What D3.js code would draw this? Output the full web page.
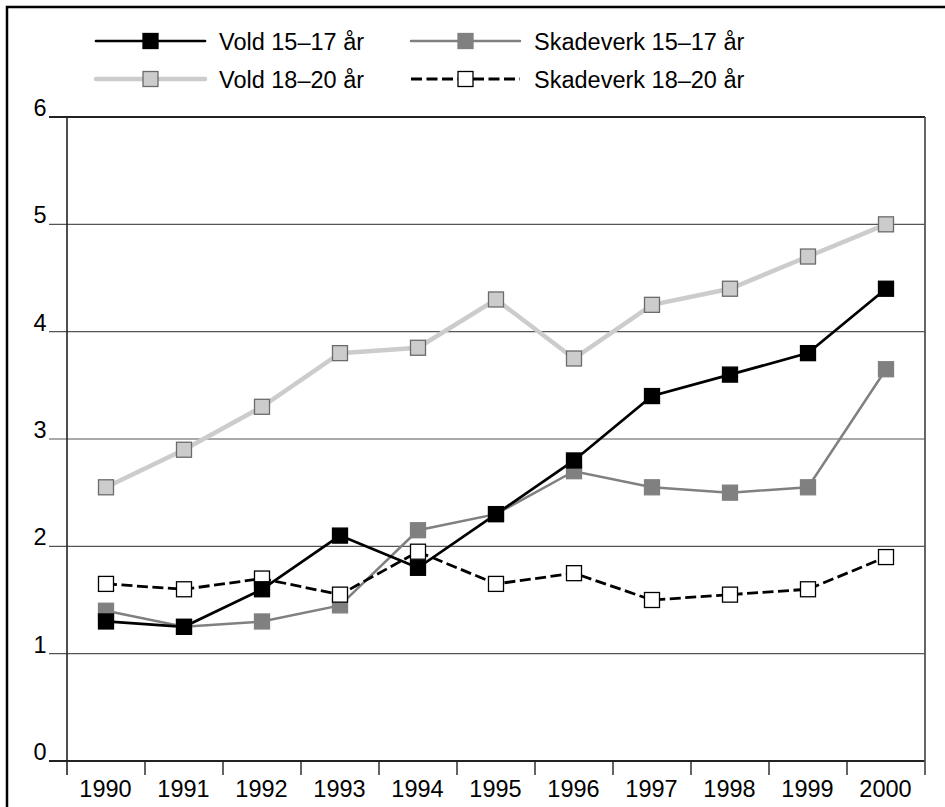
<!DOCTYPE html>
<html>
<head>
<meta charset="utf-8">
<script src="https://cdn.jsdelivr.net/npm/d3@7"></script>
<style>
  html, body { margin: 0; padding: 0; background: #fff; }
  svg text { font-family: "Liberation Sans", Arial, Helvetica, sans-serif; fill: #000; }
</style>
</head>
<body>
<svg id="chart" width="945" height="807"></svg>
<script>
const years = ["1990","1991","1992","1993","1994","1995","1996","1997","1998","1999","2000"];
const yTicks = [0, 1, 2, 3, 4, 5, 6];
const seriesNames = ["Vold 15–17 år", "Skadeverk 15–17 år", "Vold 18–20 år", "Skadeverk 18–20 år"];
const vold1517 = [1.3, 1.25, 1.6, 2.1, 1.8, 2.3, 2.8, 3.4, 3.6, 3.8, 4.4];
const skade1517 = [1.4, 1.25, 1.3, 1.45, 2.15, 2.3, 2.7, 2.55, 2.5, 2.55, 3.65];
const vold1820 = [2.55, 2.9, 3.3, 3.8, 3.85, 4.3, 3.75, 4.25, 4.4, 4.7, 5.0];
const skade1820 = [1.65, 1.6, 1.7, 1.55, 1.95, 1.65, 1.75, 1.5, 1.55, 1.6, 1.9];

const styles = [
  { line: "#000", width: 2.7, dash: null, fill: "#000", stroke: "#000" },
  { line: "#808080", width: 2.5, dash: null, fill: "#808080", stroke: "#808080" },
  { line: "#cccccc", width: 4.5, dash: null, fill: "#cccccc", stroke: "#6b6b6b" },
  { line: "#000", width: 2.8, dash: "11,4.5", fill: "#fff", stroke: "#000" }
];
const data = [vold1517, skade1517, vold1820, skade1820];
const drawOrder = [2, 1, 3, 0];

const svg = d3.select("#chart");
const pLeft = 67, pRight = 925, pTop = 117, pBottom = 761;
const fs = 23.5;

svg.append("path").attr("d", "M7,807 L7,7 L945,7").attr("fill", "none").attr("stroke", "#000").attr("stroke-width", 2.5);

const x = d3.scaleBand().domain(years).range([pLeft, pRight]).padding(0);
const y = d3.scaleLinear().domain([0, 6]).range([pBottom, pTop]);

svg.append("g").selectAll("line").data(yTicks).join("line")
  .attr("x1", 49).attr("x2", pRight)
  .attr("y1", d => y(d)).attr("y2", d => y(d))
  .attr("stroke", d => (d === 0 || d === 6) ? "#222" : "#555")
  .attr("stroke-width", d => (d === 0) ? 2.2 : (d === 6 ? 1.8 : 1.1));

svg.append("g").selectAll("text").data(yTicks).join("text")
  .attr("x", 46.5).attr("y", d => y(d) - 1)
  .attr("text-anchor", "end")
  .attr("font-size", fs)
  .text(d => d);

svg.append("line").attr("x1", pLeft).attr("x2", pLeft).attr("y1", pTop).attr("y2", pBottom + 14)
  .attr("stroke", "#222").attr("stroke-width", 1.6);
svg.append("line").attr("x1", pRight).attr("x2", pRight).attr("y1", pTop).attr("y2", pBottom + 14)
  .attr("stroke", "#555").attr("stroke-width", 1.8);

svg.append("g").selectAll("line").data(years.slice(1)).join("line")
  .attr("x1", d => x(d)).attr("x2", d => x(d))
  .attr("y1", pBottom).attr("y2", pBottom + 14)
  .attr("stroke", "#222").attr("stroke-width", 1.4);

svg.append("g").selectAll("text").data(years).join("text")
  .attr("x", d => x(d) + x.bandwidth() / 2 - 0.5)
  .attr("y", 797)
  .attr("text-anchor", "middle")
  .attr("font-size", fs)
  .text(d => d);

const cx = d => x(d) + x.bandwidth() / 2;
const ms = 15;

drawOrder.forEach(i => {
  const st = styles[i];
  const pts = years.map((yr, j) => [cx(yr), y(data[i][j])]);
  svg.append("path")
    .attr("d", d3.line()(pts))
    .attr("fill", "none")
    .attr("stroke", st.line)
    .attr("stroke-width", st.width)
    .attr("stroke-dasharray", st.dash)
    .attr("stroke-linejoin", "miter");
});
drawOrder.forEach(i => {
  const st = styles[i];
  svg.append("g").selectAll("rect").data(years).join("rect")
    .attr("x", (d) => cx(d) - ms / 2)
    .attr("y", (d, j) => y(data[i][j]) - ms / 2)
    .attr("width", ms).attr("height", ms)
    .attr("fill", st.fill)
    .attr("stroke", st.stroke)
    .attr("stroke-width", 1.3);
});

const legendPos = [
  { lx: 96, ty: 41 },
  { lx: 411, ty: 41 },
  { lx: 96, ty: 79 },
  { lx: 411, ty: 79 }
];
seriesNames.forEach((name, i) => {
  const st = styles[i];
  const p = legendPos[i];
  const g = svg.append("g");
  g.append("line").attr("x1", p.lx).attr("x2", p.lx + 109).attr("y1", p.ty).attr("y2", p.ty)
    .attr("stroke", st.line).attr("stroke-width", st.width)
    .attr("stroke-dasharray", st.dash).attr("stroke-linecap", st.dash ? "butt" : "round");
  g.append("rect").attr("x", p.lx + 54.5 - ms / 2).attr("y", p.ty - ms / 2)
    .attr("width", ms).attr("height", ms)
    .attr("fill", st.fill).attr("stroke", st.stroke).attr("stroke-width", 1.3);
  g.append("text").attr("x", p.lx + 123).attr("y", p.ty + 8.5)
    .attr("font-size", fs).text(name);
});
</script>
</body>
</html>
